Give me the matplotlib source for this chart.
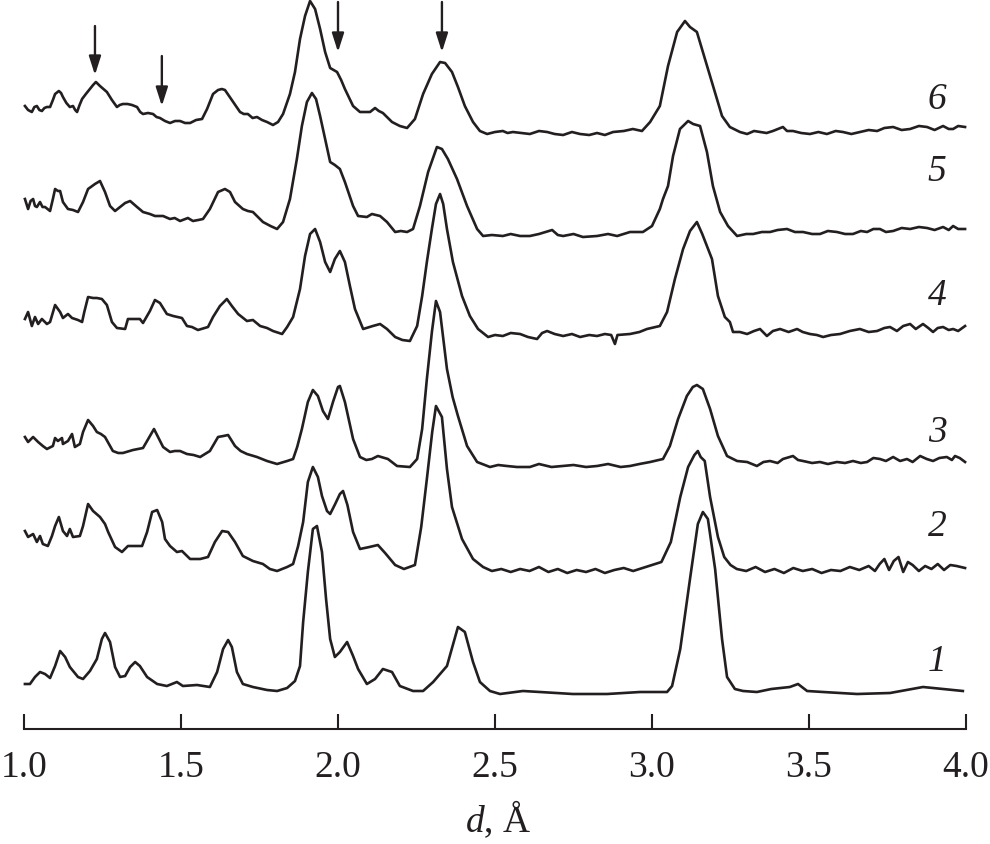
import matplotlib
matplotlib.use("Agg")
import matplotlib.pyplot as plt

plt.rcParams['font.family'] = ['Liberation Serif', 'DejaVu Serif']
plt.rcParams['mathtext.fontset'] = 'custom'
plt.rcParams['mathtext.it'] = 'Liberation Serif:italic'
plt.rcParams['mathtext.rm'] = 'Liberation Serif'

# ---- data: (d [Angstrom], intensity above own baseline [arb. units]) ----
curve1 = [(1.003, 5), (1.019, 5), (1.035, 12), (1.051, 17), (1.067, 15), (1.083, 11), (1.099, 23),
          (1.115, 38), (1.131, 32), (1.146, 22), (1.172, 12), (1.188, 10), (1.210, 18), (1.232, 30),
          (1.248, 50), (1.258, 56), (1.274, 47), (1.290, 22), (1.306, 12), (1.322, 13), (1.338, 22),
          (1.354, 27), (1.369, 23), (1.392, 12), (1.424, 5), (1.455, 3), (1.487, 7), (1.506, 3),
          (1.551, 4), (1.592, 2), (1.615, 17), (1.634, 40), (1.650, 49), (1.662, 42), (1.678, 17),
          (1.697, 5), (1.729, 2), (1.774, -1), (1.806, -2), (1.838, 1), (1.863, 8), (1.879, 23),
          (1.889, 67), (1.904, 117), (1.920, 160), (1.933, 163), (1.949, 137), (1.962, 90),
          (1.975, 50), (1.990, 32), (2.006, 37), (2.029, 47), (2.048, 33), (2.064, 20), (2.092, 5),
          (2.118, 10), (2.143, 20), (2.172, 17), (2.197, 3), (2.239, -2), (2.271, -2), (2.303, 7),
          (2.347, 23), (2.382, 62), (2.404, 57), (2.430, 27), (2.452, 7), (2.484, -2), (2.516, -5),
          (2.589, -2), (2.643, -3), (2.748, -5), (2.857, -5), (2.962, -3), (3.048, -3), (3.064, 3),
          (3.090, 40), (3.121, 110), (3.146, 165), (3.162, 177), (3.178, 170), (3.201, 120),
          (3.223, 50), (3.239, 12), (3.264, 0), (3.290, -2), (3.334, -3), (3.380, 0), (3.439, 2),
          (3.465, 5), (3.494, -2), (3.545, -3), (3.653, -5), (3.758, -4), (3.863, 2), (3.927, 0),
          (3.990, -2)]

curve2 = [(1.003, 36), (1.013, 30), (1.029, 33), (1.041, 25), (1.051, 31), (1.060, 23), (1.076, 21),
          (1.089, 31), (1.099, 41), (1.111, 50), (1.124, 36), (1.137, 31), (1.146, 38), (1.156, 30),
          (1.178, 31), (1.188, 41), (1.204, 63), (1.220, 56), (1.242, 50), (1.258, 43), (1.268, 35),
          (1.290, 20), (1.312, 15), (1.331, 21), (1.355, 21), (1.376, 21), (1.392, 35), (1.408, 55),
          (1.424, 57), (1.440, 45), (1.449, 28), (1.465, 21), (1.487, 15), (1.503, 16), (1.529, 8),
          (1.561, 8), (1.586, 10), (1.608, 25), (1.631, 36), (1.650, 35), (1.672, 25), (1.697, 11),
          (1.729, 6), (1.761, 3), (1.783, -2), (1.806, -4), (1.838, 0), (1.857, 3), (1.873, 21),
          (1.889, 45), (1.904, 85), (1.920, 100), (1.936, 90), (1.949, 71), (1.965, 56), (1.975, 53),
          (1.991, 63), (2.006, 73), (2.016, 76), (2.030, 62), (2.048, 35), (2.070, 18), (2.100, 20),
          (2.127, 22), (2.150, 14), (2.182, 2), (2.210, -2), (2.245, 2), (2.265, 40), (2.283, 88),
          (2.300, 135), (2.312, 161), (2.331, 150), (2.347, 98), (2.363, 60), (2.395, 28), (2.430, 8),
          (2.462, 0), (2.490, -4), (2.520, -2), (2.550, -5), (2.580, -2), (2.610, -4), (2.640, 0),
          (2.670, -5), (2.700, -2), (2.730, -6), (2.760, -3), (2.790, -5), (2.820, -2), (2.850, -6),
          (2.880, -3), (2.910, -1), (2.940, -4), (2.970, -1), (3.000, 2), (3.030, 5), (3.060, 25),
          (3.090, 70), (3.115, 100), (3.135, 112), (3.146, 116), (3.155, 110), (3.168, 106),
          (3.185, 70), (3.210, 30), (3.230, 10), (3.250, 2), (3.270, -2), (3.300, -4), (3.330, 0),
          (3.360, -5), (3.390, -2), (3.420, -6), (3.450, -1), (3.480, -4), (3.510, -2), (3.540, -6),
          (3.570, -3), (3.600, -4), (3.630, 0), (3.660, -3), (3.690, 1), (3.710, -4), (3.725, 3),
          (3.740, 8), (3.755, -3), (3.770, 6), (3.785, 10), (3.800, -5), (3.815, 5), (3.830, 2),
          (3.850, -4), (3.870, 1), (3.890, -2), (3.910, 3), (3.930, -3), (3.950, 2), (3.970, 1),
          (3.997, -1)]

curve3 = [(1.003, 25), (1.013, 20), (1.029, 25), (1.045, 20), (1.060, 16), (1.073, 13), (1.092, 16),
          (1.099, 24), (1.108, 21), (1.121, 24), (1.124, 18), (1.140, 21), (1.153, 28), (1.162, 15),
          (1.178, 18), (1.188, 30), (1.204, 42), (1.220, 36), (1.232, 30), (1.245, 28), (1.258, 25),
          (1.283, 11), (1.300, 9), (1.315, 9), (1.347, 12), (1.379, 14), (1.401, 26), (1.414, 33),
          (1.427, 25), (1.443, 15), (1.465, 10), (1.480, 11), (1.497, 11), (1.519, 8), (1.540, 7),
          (1.561, 5), (1.592, 11), (1.618, 25), (1.635, 26), (1.650, 27), (1.672, 16), (1.690, 11),
          (1.710, 8), (1.742, 5), (1.774, 1), (1.806, -2), (1.838, 1), (1.857, 3), (1.870, 15),
          (1.885, 33), (1.904, 60), (1.920, 72), (1.936, 66), (1.952, 51), (1.968, 43), (1.984, 60),
          (2.000, 75), (2.006, 76), (2.022, 60), (2.048, 23), (2.070, 5), (2.090, 2), (2.108, 3),
          (2.127, 6), (2.159, 3), (2.188, -4), (2.229, -5), (2.252, 3), (2.268, 33), (2.283, 83),
          (2.299, 130), (2.312, 161), (2.325, 150), (2.347, 93), (2.365, 65), (2.382, 46), (2.411, 16),
          (2.443, 0), (2.484, -5), (2.510, -3), (2.538, -4), (2.570, -5), (2.611, -5), (2.640, -2),
          (2.680, -5), (2.717, -4), (2.750, -3), (2.790, -5), (2.825, -4), (2.860, -2), (2.900, -5),
          (2.930, -4), (2.960, -2), (2.994, 0), (3.035, 3), (3.057, 16), (3.083, 43), (3.111, 66),
          (3.130, 75), (3.143, 77), (3.162, 73), (3.185, 53), (3.210, 26), (3.239, 6), (3.271, 1),
          (3.303, 0), (3.334, -4), (3.355, 0), (3.376, 1), (3.400, -1), (3.417, 3), (3.449, 6),
          (3.465, 2), (3.481, 1), (3.510, -1), (3.535, 0), (3.560, -2), (3.589, 0), (3.615, -1),
          (3.640, 1), (3.665, -1), (3.685, 0), (3.705, 4), (3.726, 3), (3.745, 1), (3.768, 5),
          (3.790, 1), (3.812, 3), (3.830, 0), (3.854, 6), (3.875, 3), (3.895, 1), (3.915, 4),
          (3.939, 5), (3.955, 2), (3.965, 6), (3.980, 4), (3.997, 0)]

curve4 = [(1.003, 10), (1.013, 17), (1.025, 3), (1.035, 12), (1.045, 5), (1.057, 10), (1.073, 5),
          (1.083, 7), (1.099, 24), (1.115, 17), (1.124, 11), (1.140, 15), (1.153, 11), (1.172, 9),
          (1.185, 7), (1.192, 17), (1.204, 32), (1.220, 31), (1.232, 31), (1.248, 30), (1.264, 24),
          (1.280, 7), (1.296, 1), (1.322, 0), (1.331, 10), (1.350, 10), (1.369, 10), (1.379, 6),
          (1.401, 18), (1.417, 29), (1.433, 26), (1.455, 15), (1.475, 13), (1.503, 11), (1.519, 3),
          (1.535, 2), (1.554, -1), (1.586, 2), (1.602, 12), (1.624, 23), (1.646, 30), (1.662, 23),
          (1.682, 15), (1.710, 8), (1.729, 9), (1.752, 3), (1.774, 1), (1.793, -2), (1.822, -5),
          (1.838, 2), (1.857, 12), (1.879, 40), (1.895, 73), (1.911, 95), (1.927, 100), (1.943, 87),
          (1.959, 67), (1.975, 57), (1.990, 70), (2.006, 78), (2.022, 67), (2.038, 43), (2.054, 20),
          (2.080, 0), (2.111, 3), (2.134, 5), (2.156, 0), (2.182, -8), (2.205, -11), (2.229, -12),
          (2.252, 3), (2.268, 33), (2.283, 67), (2.299, 100), (2.312, 125), (2.325, 135), (2.335, 125),
          (2.347, 100), (2.366, 67), (2.395, 33), (2.420, 13), (2.446, 0), (2.478, -8), (2.500, -6),
          (2.525, -7), (2.550, -4), (2.580, -5), (2.605, -8), (2.634, -10), (2.650, -4), (2.666, -2),
          (2.690, -5), (2.717, -7), (2.745, -5), (2.771, -8), (2.800, -6), (2.825, -7), (2.850, -5),
          (2.870, -6), (2.882, -15), (2.890, -6), (2.930, -5), (2.960, -3), (2.984, 0), (3.025, 3),
          (3.048, 17), (3.073, 50), (3.099, 80), (3.121, 98), (3.143, 107), (3.160, 95), (3.175, 83),
          (3.191, 70), (3.210, 33), (3.232, 12), (3.248, 7), (3.258, -3), (3.280, -3), (3.303, -5),
          (3.325, -2), (3.344, 0), (3.366, -7), (3.385, -2), (3.408, 0), (3.435, -3), (3.462, 0),
          (3.480, -3), (3.503, -5), (3.525, -6), (3.545, -8), (3.570, -6), (3.599, -5), (3.630, -2),
          (3.662, 0), (3.690, -3), (3.717, -2), (3.740, 1), (3.758, 2), (3.780, -2), (3.800, 3),
          (3.822, 5), (3.840, 0), (3.863, 5), (3.880, 1), (3.895, -3), (3.910, 1), (3.927, 2),
          (3.945, -1), (3.959, 0), (3.975, -2), (3.997, 3)]

curve5 = [(1.003, 32), (1.013, 22), (1.021, 30), (1.029, 32), (1.035, 25), (1.041, 24), (1.051, 29),
          (1.059, 24), (1.067, 24), (1.083, 20), (1.092, 32), (1.099, 42), (1.108, 40), (1.115, 40),
          (1.124, 29), (1.140, 22), (1.156, 21), (1.172, 19), (1.188, 29), (1.204, 42), (1.226, 47),
          (1.242, 50), (1.258, 39), (1.274, 25), (1.290, 20), (1.306, 24), (1.322, 28), (1.338, 30),
          (1.360, 24), (1.379, 19), (1.401, 17), (1.417, 15), (1.443, 15), (1.465, 12), (1.480, 13),
          (1.497, 10), (1.522, 13), (1.538, 10), (1.555, 11), (1.570, 12), (1.592, 22), (1.618, 39),
          (1.640, 42), (1.656, 39), (1.672, 29), (1.697, 22), (1.713, 20), (1.729, 19), (1.745, 14),
          (1.761, 9), (1.785, 5), (1.806, 2), (1.825, 9), (1.847, 32), (1.869, 72), (1.885, 105),
          (1.901, 129), (1.917, 138), (1.930, 132), (1.943, 115), (1.959, 92), (1.975, 69),
          (1.990, 66), (2.006, 62), (2.022, 49), (2.048, 25), (2.064, 15), (2.092, 14), (2.108, 17),
          (2.134, 15), (2.156, 9), (2.182, -1), (2.200, 0), (2.220, -1), (2.239, 2), (2.261, 25),
          (2.287, 59), (2.315, 84), (2.331, 82), (2.350, 72), (2.379, 52), (2.411, 25), (2.443, 2),
          (2.462, -5), (2.490, -4), (2.525, -5), (2.550, -3), (2.580, -5), (2.611, -5), (2.640, -3),
          (2.682, 1), (2.700, -4), (2.717, -5), (2.750, -3), (2.780, -6), (2.825, -5), (2.860, -3),
          (2.889, -5), (2.930, -1), (2.971, -1), (3.000, 5), (3.025, 22), (3.035, 32), (3.051, 45),
          (3.067, 75), (3.089, 102), (3.115, 110), (3.131, 107), (3.153, 105), (3.175, 79),
          (3.194, 45), (3.217, 19), (3.242, 5), (3.271, -5), (3.300, -3), (3.322, -3), (3.350, -1),
          (3.376, -1), (3.400, 1), (3.430, 2), (3.455, -1), (3.481, -1), (3.510, -3), (3.535, -3),
          (3.560, 0), (3.589, -1), (3.615, -3), (3.640, -3), (3.665, 0), (3.685, -1), (3.705, 2),
          (3.726, 2), (3.745, -1), (3.768, 0), (3.795, 3), (3.822, 2), (3.850, 4), (3.876, 3),
          (3.900, 1), (3.927, 4), (3.945, 1), (3.959, 5), (3.975, 2), (3.997, 2)]

curve6 = [(1.003, 26), (1.013, 22), (1.025, 20), (1.033, 25), (1.041, 26), (1.049, 22), (1.057, 21),
          (1.065, 24), (1.073, 25), (1.083, 25), (1.092, 32), (1.099, 38), (1.111, 41), (1.118, 39),
          (1.124, 35), (1.135, 29), (1.146, 25), (1.156, 26), (1.163, 22), (1.169, 20), (1.177, 27),
          (1.185, 33), (1.197, 38), (1.210, 43), (1.220, 47), (1.229, 50), (1.242, 46), (1.253, 43),
          (1.264, 40), (1.280, 32), (1.296, 25), (1.305, 27), (1.315, 28), (1.330, 28), (1.344, 27),
          (1.360, 25), (1.370, 20), (1.379, 18), (1.395, 19), (1.411, 18), (1.422, 15), (1.433, 14),
          (1.449, 11), (1.465, 9), (1.481, 11), (1.497, 11), (1.513, 9), (1.529, 9), (1.548, 12),
          (1.567, 13), (1.583, 23), (1.602, 38), (1.618, 42), (1.630, 43), (1.640, 42), (1.653, 36),
          (1.666, 30), (1.688, 20), (1.700, 18), (1.713, 18), (1.728, 14), (1.742, 15), (1.758, 12),
          (1.774, 10), (1.793, 7), (1.809, 10), (1.825, 18), (1.847, 38), (1.863, 60), (1.879, 93),
          (1.895, 116), (1.911, 131), (1.927, 123), (1.943, 103), (1.959, 80), (1.975, 64),
          (1.997, 60), (2.010, 52), (2.022, 43), (2.048, 26), (2.070, 20), (2.086, 20), (2.102, 20),
          (2.118, 24), (2.130, 21), (2.143, 19), (2.172, 10), (2.197, 6), (2.220, 4), (2.245, 13),
          (2.271, 38), (2.299, 58), (2.325, 70), (2.341, 69), (2.363, 60), (2.382, 45), (2.404, 26),
          (2.430, 10), (2.452, 1), (2.475, -2), (2.500, 0), (2.525, 1), (2.540, -1), (2.557, 0),
          (2.585, -1), (2.611, -2), (2.640, 1), (2.666, 0), (2.690, -2), (2.717, -3), (2.745, 0),
          (2.771, -2), (2.800, -3), (2.825, -1), (2.850, -3), (2.876, 0), (2.910, 1), (2.939, 3),
          (2.968, 1), (2.994, 10), (3.025, 26), (3.051, 66), (3.080, 100), (3.105, 111), (3.121, 105),
          (3.143, 100), (3.162, 80), (3.194, 46), (3.223, 16), (3.248, 5), (3.280, 0), (3.303, -2),
          (3.325, 1), (3.344, 0), (3.365, -1), (3.385, 1), (3.417, 5), (3.430, 1), (3.449, 1),
          (3.475, -1), (3.503, -2), (3.530, 0), (3.557, -2), (3.585, 1), (3.608, 0), (3.635, -2),
          (3.662, 0), (3.690, 2), (3.717, 1), (3.740, 4), (3.768, 5), (3.795, 2), (3.822, 3),
          (3.850, 6), (3.876, 5), (3.900, 2), (3.927, 6), (3.945, 3), (3.959, 3), (3.975, 6),
          (3.997, 5)]

curves = [curve1, curve2, curve3, curve4, curve5, curve6]
curve_labels = ['1', '2', '3', '4', '5', '6']
x_ticks = [1.0, 1.5, 2.0, 2.5, 3.0, 3.5, 4.0]
x_tick_labels = ['1.0', '1.5', '2.0', '2.5', '3.0', '3.5', '4.0']
arrow_positions = [1.226, 1.439, 2.0, 2.331]

# ---- layout / style ----
offsets = [40, 162, 267, 400, 498, 597]
label_y = [68, 203, 297, 434, 558, 630]
arrow_tops = [703, 673, 727, 727]
arrow_tips = [654, 623, 677, 677]
ink = '#231f20'

fig = plt.figure(figsize=(9.9, 8.45), dpi=100)
ax = fig.add_axes([24 / 990, 115 / 845, 942 / 990, 730 / 845])
ax.set_xlim(1.0, 4.0)
ax.set_ylim(0, 730)

for pts, off in zip(curves, offsets):
    xs = [p[0] for p in pts]
    ys = [p[1] + off for p in pts]
    ax.plot(xs, ys, color=ink, lw=1.9, solid_joinstyle='round', clip_on=False)

for lab, ly in zip(curve_labels, label_y):
    ax.text(3.908, ly, lab, fontsize=27, fontstyle='italic', color=ink,
            ha='center', va='center')

for xa, yt, yb in zip(arrow_positions, arrow_tops, arrow_tips):
    ax.annotate('', xy=(xa, yb), xytext=(xa, yt),
                arrowprops=dict(arrowstyle='-|>,head_length=0.75,head_width=0.24',
                                lw=1.7, color=ink, shrinkA=0, shrinkB=0,
                                mutation_scale=15), annotation_clip=False)

for s in ['left', 'right', 'top']:
    ax.spines[s].set_visible(False)
ax.spines['bottom'].set_linewidth(1.5)
ax.spines['bottom'].set_color(ink)
ax.set_yticks([])
ax.set_xticks(x_ticks)
ax.set_xticklabels(x_tick_labels)
ax.tick_params(axis='x', direction='in', length=11, width=1.5, color=ink,
               labelsize=27, labelcolor=ink, pad=15)
ax.patch.set_visible(False)

fig.text(0.503, 0.0154, r'$d$, Å', fontsize=27, color=ink, ha='center', va='baseline')

fig.savefig('out.png', dpi=100)
